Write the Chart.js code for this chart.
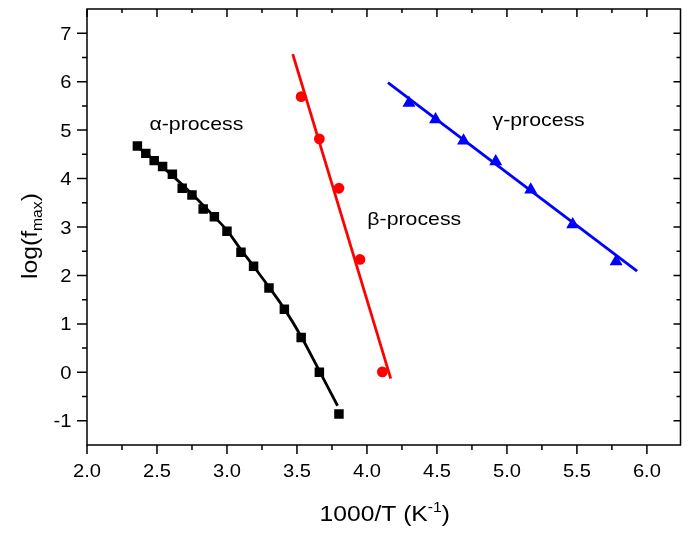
<!DOCTYPE html>
<html>
<head>
<meta charset="utf-8">
<script src="https://cdn.jsdelivr.net/npm/chart.js@4"></script>
<style>
  html, body { margin: 0; padding: 0; background: #fff; }
  #wrap { width: 688px; height: 536px; }
</style>
</head>
<body>
<div id="wrap"><canvas id="chart"></canvas></div>
<script>
// values
const alphaX = [2.36, 2.42, 2.48, 2.54, 2.61, 2.68, 2.75, 2.83, 2.91, 3.00, 3.10, 3.19, 3.30, 3.41, 3.53, 3.66, 3.80];
const alphaY = [4.67, 4.52, 4.37, 4.25, 4.09, 3.80, 3.66, 3.37, 3.21, 2.91, 2.48, 2.19, 1.74, 1.30, 0.72, 0.00, -0.86];
const alphaFitX = [2.36, 2.48, 2.61, 2.75, 2.91, 3.00, 3.10, 3.19, 3.30, 3.41, 3.53, 3.66, 3.79];
const alphaFitY = [4.66, 4.38, 4.06, 3.68, 3.21, 2.93, 2.53, 2.19, 1.76, 1.31, 0.74, 0.03, -0.69];

const betaX = [3.53, 3.66, 3.80, 3.95, 4.11];
const betaY = [5.69, 4.82, 3.80, 2.33, 0.01];
const betaFitX = [3.47, 4.17];
const betaFitY = [6.57, -0.13];

const gammaX = [4.30, 4.49, 4.69, 4.92, 5.17, 5.47, 5.78];
const gammaY = [5.56, 5.22, 4.78, 4.35, 3.77, 3.05, 2.29];
const gammaFitX = [4.15, 5.93];
const gammaFitY = [5.98, 2.09];

const xTicks = [2.0, 2.5, 3.0, 3.5, 4.0, 4.5, 5.0, 5.5, 6.0];
const yTicks = [-1, 0, 1, 2, 3, 4, 5, 6, 7];

const processLabels = [
  { text: '\u03b1-process', x: 2.446, y: 5.0 },
  { text: '\u03b2-process', x: 4.003, y: 3.04 },
  { text: '\u03b3-process', x: 4.897, y: 5.08 },
];

const FONT = 'Arial, "Liberation Sans", Helvetica, sans-serif';
const SX = 1.12; // the reference text is a little wider than it is tall

function pts(xs, ys) {
  return xs.map((x, i) => ({ x: x, y: ys[i] }));
}

// draws a list of text runs [{t, size, dy}] starting at x (or centred), baseline y
function drawRuns(ctx, runs, x, y, align) {
  let total = 0;
  runs.forEach((r) => {
    ctx.font = r.size + 'px ' + FONT;
    r.w = ctx.measureText(r.t).width * SX;
    total += r.w;
  });
  let cx = x;
  if (align === 'center') cx = x - total / 2;
  if (align === 'right') cx = x - total;
  ctx.textAlign = 'left';
  ctx.textBaseline = 'alphabetic';
  runs.forEach((r) => {
    ctx.save();
    ctx.font = r.size + 'px ' + FONT;
    ctx.translate(cx, y + (r.dy || 0));
    ctx.scale(SX, 1);
    ctx.fillText(r.t, 0, 0);
    ctx.restore();
    cx += r.w;
  });
}

const framePlugin = {
  id: 'frame',
  afterDatasetsDraw(chart) {
    const ctx = chart.ctx;
    const a = chart.chartArea;
    const xs = chart.scales.x;
    const ys = chart.scales.y;
    ctx.save();
    ctx.strokeStyle = '#000';
    ctx.fillStyle = '#000';
    ctx.lineWidth = 1.5;
    ctx.strokeRect(a.left, a.top, a.right - a.left, a.bottom - a.top);

    ctx.beginPath();
    // x ticks (major every 0.5, minor between)
    for (let v = 2.0; v <= 6.2001; v += 0.25) {
      const px = xs.getPixelForValue(v);
      const major = Math.abs(v * 2 - Math.round(v * 2)) < 1e-6;
      ctx.moveTo(px, a.bottom);
      ctx.lineTo(px, a.bottom + (major ? 9 : 5));
      ctx.moveTo(px, a.top);
      ctx.lineTo(px, a.top + (major ? 8 : 4));
    }
    // y ticks (major every 1, minor between)
    for (let v = -1.5; v <= 7.5001; v += 0.5) {
      const py = ys.getPixelForValue(v);
      const major = Math.abs(v - Math.round(v)) < 1e-6;
      if (v === -1.5 || v === 7.5) continue;
      ctx.moveTo(a.left, py);
      ctx.lineTo(a.left - (major ? 10 : 5), py);
      ctx.moveTo(a.right, py);
      ctx.lineTo(a.right - (major ? 7 : 4), py);
    }
    ctx.stroke();

    xTicks.forEach((v) => {
      drawRuns(ctx, [{ t: v.toFixed(1), size: 18 }], xs.getPixelForValue(v), a.bottom + 32, 'center');
    });
    yTicks.forEach((v) => {
      drawRuns(ctx, [{ t: String(v), size: 18 }], a.left - 15.5, ys.getPixelForValue(v) + 6.5, 'right');
    });

    processLabels.forEach((l) => {
      drawRuns(ctx, [{ t: l.text, size: 19 }], xs.getPixelForValue(l.x), ys.getPixelForValue(l.y), 'left');
    });

    // axis titles
    drawRuns(ctx, [
      { t: '1000/T (K', size: 22 },
      { t: '-1', size: 14, dy: -9 },
      { t: ')', size: 22 },
    ], (a.left + a.right) / 2 + 1, 521, 'center');

    ctx.save();
    ctx.translate(37, (a.top + a.bottom) / 2 + 9);
    ctx.rotate(-Math.PI / 2);
    drawRuns(ctx, [
      { t: 'log(f', size: 22 },
      { t: 'max', size: 14, dy: 5 },
      { t: ')', size: 22 },
    ], 0, 0, 'center');
    ctx.restore();
    ctx.restore();
  },
};

new Chart(document.getElementById('chart'), {
  type: 'scatter',
  data: {
    datasets: [
      { data: pts(alphaX, alphaY), pointStyle: 'rect', pointRadius: 6.7, backgroundColor: '#000', borderWidth: 0, showLine: false },
      { data: pts(betaX, betaY), pointStyle: 'circle', pointRadius: 5.4, backgroundColor: '#ff0000', borderWidth: 0, showLine: false },
      { data: pts(gammaX, gammaY), pointStyle: 'triangle', pointRadius: 7.5, backgroundColor: '#0000ff', borderWidth: 0, showLine: false },
      { data: pts(alphaFitX, alphaFitY), showLine: true, pointRadius: 0, borderColor: '#000', borderWidth: 2.8, cubicInterpolationMode: 'monotone' },
      { data: pts(betaFitX, betaFitY), showLine: true, pointRadius: 0, borderColor: '#ff0000', borderWidth: 2.8 },
      { data: pts(gammaFitX, gammaFitY), showLine: true, pointRadius: 0, borderColor: '#0000ff', borderWidth: 2.8 },
    ],
  },
  options: {
    responsive: true,
    maintainAspectRatio: false,
    animation: false,
    layout: { padding: { left: 87, right: 2, top: 9, bottom: 91 } },
    plugins: { legend: { display: false }, tooltip: { enabled: false } },
    scales: {
      x: { type: 'linear', min: 2.0, max: 6.24, display: false },
      y: { type: 'linear', min: -1.5, max: 7.5, display: false },
    },
  },
  plugins: [framePlugin],
});
</script>
</body>
</html>
